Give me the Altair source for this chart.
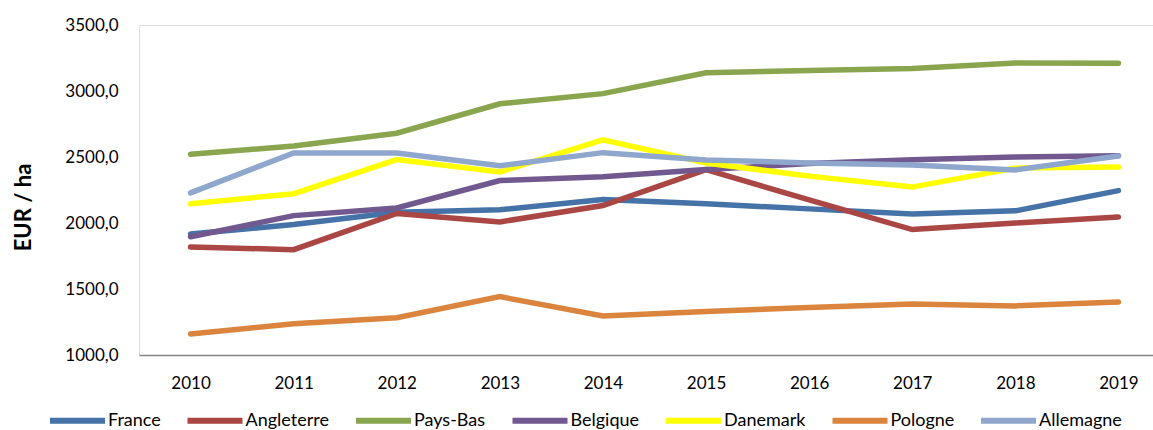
import altair as alt
import pandas as pd

years = ["2010", "2011", "2012", "2013", "2014", "2015", "2016", "2017", "2018", "2019"]
countries = ["France", "Angleterre", "Pays-Bas", "Belgique", "Danemark", "Pologne", "Allemagne"]
colors = ["#4572A7", "#AA4643", "#89A54E", "#71588F", "#FFFF00", "#DB843D", "#8FA7CD"]

france = [1917, 1988, 2082, 2100, 2178, 2145, 2107, 2069, 2092, 2245]
angleterre = [1819, 1798, 2072, 2008, 2132, 2405, 2175, 1950, 2000, 2046]
pays_bas = [2520, 2584, 2680, 2903, 2980, 3138, 3155, 3170, 3213, 3210]
belgique = [1896, 2056, 2114, 2322, 2350, 2405, 2450, 2480, 2500, 2510]
danemark = [2145, 2222, 2480, 2387, 2630, 2455, 2355, 2272, 2417, 2425]
pologne = [1159, 1237, 1282, 1442, 1296, 1330, 1360, 1387, 1372, 1402]
allemagne = [2228, 2531, 2531, 2433, 2533, 2478, 2455, 2440, 2402, 2508]

series = [france, angleterre, pays_bas, belgique, danemark, pologne, allemagne]

rows = []
for ci, (name, vals) in enumerate(zip(countries, series)):
    for y, v in zip(years, vals):
        rows.append({"Année": y, "Pays": name, "Valeur": v, "ordre": ci})
df = pd.DataFrame(rows)

FONT = "Lato"

chart = alt.Chart(df).mark_line(strokeWidth=5.5, strokeCap="round").encode(
    x=alt.X("Année:O",
            scale=alt.Scale(type="point", padding=0.5, range=[0, 1031]),
            axis=alt.Axis(title=None, labelAngle=0, ticks=False, domainColor="#868686",
                          domainWidth=1.5, labelFontSize=17, labelFont=FONT,
                          labelColor="#000000", labelPadding=20, grid=False)),
    y=alt.Y("Valeur:Q",
            scale=alt.Scale(domain=[1000, 3500], nice=False, zero=False),
            axis=alt.Axis(title="EUR / ha", values=[1000, 1500, 2000, 2500, 3000, 3500],
                          labelExpr="replace(format(datum.value, '.1f'), '.', ',')",
                          domain=False, ticks=False, grid=False,
                          labelFontSize=17, labelFont=FONT, labelColor="#000000",
                          labelPadding=21,
                          titleFont=FONT, titleFontSize=22, titleFontWeight="bold",
                          titleColor="#000000", titleX=-116, titleY=182,
                          titleAlign="center", titleBaseline="middle", titleAngle=-90)),
    color=alt.Color("Pays:N",
                    scale=alt.Scale(domain=countries, range=colors),
                    legend=alt.Legend(title=None, orient="none", direction="horizontal",
                                      legendX=-92, legendY=365, symbolType="stroke",
                                      symbolStrokeWidth=6, symbolSize=3025,
                                      labelFontSize=18, labelFont=FONT, labelColor="#000000",
                                      labelOffset=0, columnPadding=14.5)),
    order=alt.Order("ordre:Q"),
    detail="Pays:N",
).properties(
    width=1014, height=330,
    autosize=alt.AutoSizeParams(type="none"),
    padding={"left": 139, "top": 25, "right": 0, "bottom": 75},
).configure_view(stroke=None).configure(background="white")

chart.save("out.html", embed_options={"renderer": "svg", "actions": False})
